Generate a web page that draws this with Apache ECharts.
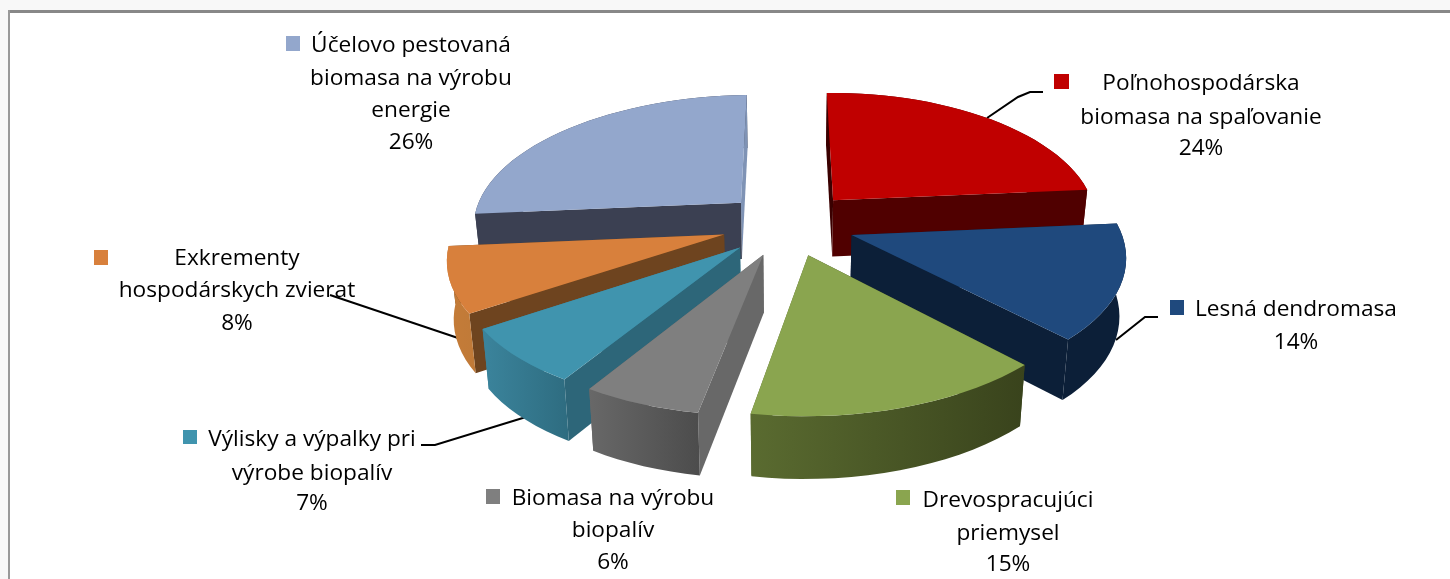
<!DOCTYPE html>
<html><head><meta charset="utf-8">
<style>html,body{margin:0;padding:0;background:#f8f8f8}#c{width:1450px;height:579px}</style>
<script src="https://cdn.jsdelivr.net/npm/echarts@6/dist/echarts.min.js"></script>
</head><body><div id="c"></div>
<script>
// ---- data ----
const categories = [
  'Poľnohospodárska\nbiomasa na spaľovanie',
  'Lesná dendromasa',
  'Drevospracujúci\npriemysel',
  'Biomasa na výrobu\nbiopalív',
  'Výlisky a výpalky pri\nvýrobe biopalív',
  'Exkrementy\nhospodárskych zvierat',
  'Účelovo pestovaná\nbiomasa na výrobu\nenergie'
];
const values = [24, 14, 15, 6, 7, 8, 26];
// ---- colours ----
const topColors  = ['#c00000','#1f497d','#8aa54f','#7f7f7f','#4094ae','#d8803c','#93a7cc'];
const rimStart   = ['#500000','#0c1f38','#39431c','#4c4c4c','#2e6c80','#c07a38','#3b4052'];
const rimEnd     = ['#500000','#0c1f38','#5a6b30','#686868','#3b849c','#c57c38','#3b4052'];
const wallStart  = ['#3a0000','#0c1f38','#39431c','#686868','#2d6679','#6e441f','#3b4052'];
const wallEnd    = ['#500000','#0c1f38','#5a6b30','#686868','#3b849c','#6e441f','#7f93b5'];
// ---- 3D projection settings ----
const CX = 789, CY = 224.5, SX = 270, SY = 128.4, PERSP = 0.1406, EXPLODE = 0.25,
      DEPTH = 57, BASE_SHRINK = 0.98, RIM_STEP = 3, SHEAR = 0.012, SHEAR_X = 720, WARP = 4.8;
// ---- label layout ----
const labelLayout = [
  {sw:[1054,74,15,15], cx:1201, ys:[84,118,149]},
  {sw:[1170,300,14,15], cx:1296, ys:[310,343]},
  {sw:[896,490,14,15], cx:1008, ys:[501,534,565]},
  {sw:[486,489,14,15], cx:613, ys:[499,531,563]},
  {sw:[183,430,14,14], cx:312, ys:[440,474,504]},
  {sw:[94,250,14,15], cx:237, ys:[259,291,324]},
  {sw:[286,36,14,15], cx:411, ys:[46,79,111,143]}
];
const leaders = [
  [[1043,92],[1030,92],[1018,97],[987,118]],
  [[1158,317],[1145,317],[1116,340]],
  [[330,295],[458,338]],
  [[421,445],[435,445],[526,417]]
];

const FONT = '"Open Sans", sans-serif', FONT_PX = 22, TEXT_STRETCH = 1.03;
const total = values.reduce((a,b)=>a+b,0);
const starts = []; values.reduce((acc,v)=>{starts.push(acc);return acc+v;},0);

function project(X,Y){
  const w=1+PERSP*Y;
  const x=CX+SX*X/w-WARP*Math.max(Y+1,0)*Math.max(X,0);
  return [x, CY-SY*Y/w-SHEAR*(x-SHEAR_X)];
}
function projectBase(X,Y){const w=1+PERSP*Y,p=project(X,Y);
  return [CX+(p[0]-CX)*BASE_SHRINK, p[1]+DEPTH/Math.sqrt(w)];}

function renderSlice(params, api){
  const i = api.value(0), start = api.value(1), val = api.value(2);
  const a0 = start/total*360, a1 = (start+val)/total*360, m=(a0+a1)/2*Math.PI/180;
  const ox = EXPLODE*Math.sin(m), oy = EXPLODE*Math.cos(m);
  const pt = d=>{const r=d*Math.PI/180;return [ox+Math.sin(r), oy+Math.cos(r)];};
  const baseZ = 10 + Math.round((1-Math.cos(m))*500);
  const n = Math.max(2,Math.ceil((a1-a0)/RIM_STEP));
  const topPts=[project(ox,oy)], rimTop=[], rimBase=[]; let ySum=0;
  for(let k=0;k<=n;k++){
    const p=pt(a0+(a1-a0)*k/n);
    const t=project(p[0],p[1]); topPts.push(t); rimTop.push(t);
    rimBase.push(projectBase(p[0],p[1])); ySum+=p[1];
  }
  const faces=[{y:ySum/(n+1),
    fill:{type:'linear',x:0,y:0,x2:1,y2:0,colorStops:[{offset:0,color:rimEnd[i]},{offset:1,color:rimStart[i]}]},
    pts:rimTop.concat(rimBase.reverse())}];
  [[a0,wallStart[i]],[a1,wallEnd[i]]].forEach(([a,c])=>{
    const p=pt(a);
    faces.push({y:(p[1]+oy)/2, fill:c,
      pts:[project(ox,oy),project(p[0],p[1]),projectBase(p[0],p[1]),projectBase(ox,oy)]});
  });
  faces.sort((u,v)=>v.y-u.y);
  const children = faces.map((f,k)=>({type:'polygon',z2:baseZ+k*0.01,shape:{points:f.pts},
    style:{fill:f.fill,stroke:null}}));
  children.push({type:'polygon',z2:baseZ+0.5,shape:{points:topPts},style:{fill:topColors[i]}});
  return {type:'group',children};
}

const graphics = [
  {type:'rect',z:-10,shape:{x:8,y:10,width:1442,height:569},style:{fill:'#ffffff'}},
  {type:'rect',z:-9,shape:{x:8,y:10,width:1442,height:3},style:{fill:'#888888'}},
  {type:'rect',z:-9,shape:{x:8,y:10,width:2,height:569},style:{fill:'#999999'}}
];
leaders.forEach(l=>graphics.push({type:'polyline',z:-5,shape:{points:l},style:{stroke:'#000',lineWidth:2,fill:null}}));
categories.forEach((name,i)=>{
  const L=labelLayout[i];
  graphics.push({type:'rect',shape:{x:L.sw[0],y:L.sw[1],width:L.sw[2],height:L.sw[3]},style:{fill:topColors[i]}});
  name.split('\n').concat([values[i]+'%']).forEach((t,j)=>{
    graphics.push({type:'text',x:L.cx,y:L.ys[j],scaleX:TEXT_STRETCH,style:{text:t,fill:'#000',textAlign:'center',textVerticalAlign:'middle',font:FONT_PX+'px '+FONT}});
  });
});

const chart = echarts.init(document.getElementById('c'),null,{renderer:'canvas'});
chart.setOption({
  animation:false,
  backgroundColor:'#f8f8f8',
  graphic:{elements:graphics},
  series:[{type:'custom',coordinateSystem:'none',silent:true,renderItem:renderSlice,clip:false,
    data:values.map((v,i)=>[i,starts[i],v])}]
});
</script></body></html>
